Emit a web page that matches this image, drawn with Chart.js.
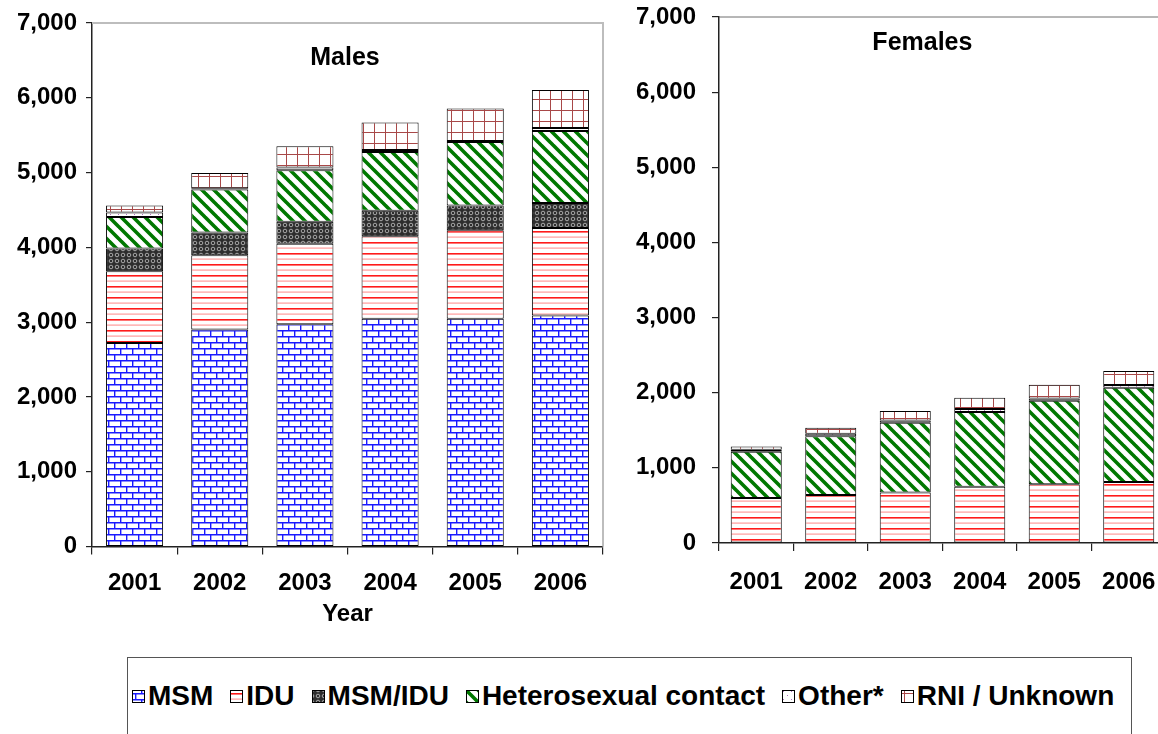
<!DOCTYPE html>
<html>
<head>
<meta charset="utf-8">
<script src="https://cdn.jsdelivr.net/npm/chart.js@4.4.1/dist/chart.umd.min.js"></script>
<style>
  html, body { margin: 0; padding: 0; background: #fff; width: 1158px; height: 734px; overflow: hidden; }
  body { position: relative; font-family: "Liberation Sans", Arial, sans-serif; }
  #males { position: absolute; left: 0; top: 0; }
  #females { position: absolute; left: 630px; top: 0; }
  #legend {
    position: absolute; left: 127px; top: 657px; width: 1005px; height: 120px;
    border: 1px solid #555; box-sizing: border-box;
    display: flex; align-items: flex-start; padding: 24px 0 0 4px;
  }
  .item { display: flex; align-items: center; margin-right: 17px; font-weight: bold; font-size: 28px; line-height: 28px; color: #000; }
  .item:last-child { margin-right: 0; }
  .item canvas { width: 13px; height: 13px; margin-right: 3px; }
</style>
</head>
<body>
<canvas id="males" width="620" height="650"></canvas>
<canvas id="females" width="560" height="650"></canvas>
<div id="legend"></div>

<script>
const years = ['2001', '2002', '2003', '2004', '2005', '2006']
const yTicks = [0, 1000, 2000, 3000, 4000, 5000, 6000, 7000]

const categories = ['MSM', 'IDU', 'MSM/IDU', 'Heterosexual contact', 'Other*', 'RNI / Unknown']

const maleMSM = [2720, 2903, 2973, 3044, 3044, 3090]
const maleIDU = [962, 993, 1074, 1105, 1186, 1170]
const maleMSMIDU = [303, 303, 294, 339, 330, 334]
const maleHetero = [422, 575, 690, 788, 848, 963]
const maleOther = [59, 16, 37, 25, 15, 40]
const maleRNI = [94, 205, 284, 368, 433, 508]

const femaleMSM = [0, 0, 0, 0, 0, 0]
const femaleIDU = [600, 640, 671, 747, 782, 813]
const femaleMSMIDU = [0, 0, 0, 0, 0, 0]
const femaleHetero = [613, 782, 929, 995, 1111, 1254]
const femaleOther = [27, 31, 31, 40, 31, 35]
const femaleRNI = [44, 80, 124, 151, 183, 186]

const FONT = '"Liberation Sans", Arial, sans-serif'

// hatch fills, one tile each
function tile (w, h, draw) {
  const c = document.createElement('canvas')
  c.width = w
  c.height = h
  const g = c.getContext('2d')
  g.fillStyle = '#fff'
  g.fillRect(0, 0, w, h)
  draw(g)
  return c
}

const tiles = {
  MSM: tile(12, 12, g => {
    g.strokeStyle = '#1a1aff'
    g.lineWidth = 1.4
    g.beginPath()
    g.moveTo(0, 0.7); g.lineTo(12, 0.7)
    g.moveTo(0, 6.7); g.lineTo(12, 6.7)
    g.moveTo(0.7, 0); g.lineTo(0.7, 6.7)
    g.moveTo(6.7, 6.7); g.lineTo(6.7, 12)
    g.stroke()
  }),
  IDU: tile(4, 11, g => {
    g.fillStyle = '#ff1a1a'
    g.fillRect(0, 0, 4, 1.6)
    g.fillStyle = '#ff9c9c'
    g.fillRect(0, 5.5, 4, 1.2)
  }),
  'MSM/IDU': tile(6, 6, g => {
    g.fillStyle = '#2e2e2e'
    g.fillRect(0, 0, 6, 6)
    g.strokeStyle = '#a8a8a8'
    g.lineWidth = 1
    g.beginPath()
    g.arc(3, 3, 1.8, 0, Math.PI * 2)
    g.stroke()
  }),
  'Heterosexual contact': tile(12, 12, g => {
    g.strokeStyle = '#007800'
    g.lineWidth = 3.6
    g.beginPath()
    for (const x0 of [-12, 0, 12]) {
      g.moveTo(x0 - 1, -1)
      g.lineTo(x0 + 13, 13)
    }
    g.stroke()
  }),
  'Other*': tile(8, 8, g => {
    g.fillStyle = '#b070c0'
    g.fillRect(2, 2, 1, 1)
    g.fillRect(6, 6, 1, 1)
  }),
  'RNI / Unknown': tile(11, 11, g => {
    g.fillStyle = '#a84848'
    g.fillRect(0, 0, 11, 1)
    g.fillRect(0, 0, 1, 11)
  })
}

function fillFor (name, ctx) {
  return ctx.createPattern(tiles[name], 'repeat')
}

// plot-area frame and the panel heading inside it
const panelFrame = {
  id: 'panelFrame',
  beforeDatasetsDraw (chart, args, opts) {
    const { ctx, chartArea: a } = chart
    ctx.save()
    ctx.strokeStyle = opts.color
    ctx.lineWidth = opts.width
    ctx.beginPath()
    ctx.moveTo(a.left, a.top)
    ctx.lineTo(a.right, a.top)
    ctx.lineTo(a.right, a.bottom)
    ctx.stroke()
    ctx.fillStyle = '#000'
    ctx.font = 'bold ' + opts.size + 'px ' + FONT
    ctx.textAlign = 'center'
    ctx.textBaseline = 'middle'
    ctx.fillText(opts.text, a.left + a.width * opts.x, a.top + opts.y)
    ctx.restore()
  }
}

function buildChart (canvas, series, cfg) {
  const ctx = canvas.getContext('2d')
  return new Chart(ctx, {
    type: 'bar',
    data: {
      labels: years,
      datasets: categories.map((name, i) => ({
        label: name,
        data: series[i],
        backgroundColor: fillFor(name, ctx),
        borderColor: '#000',
        borderWidth: c => (c.raw ? 1 : 0),
        borderSkipped: false,
        categoryPercentage: 1,
        barPercentage: cfg.barPct
      }))
    },
    options: {
      responsive: false,
      animation: false,
      devicePixelRatio: 1,
      layout: { padding: { top: cfg.top, right: cfg.right, left: 0, bottom: 0 } },
      plugins: {
        legend: { display: false },
        tooltip: { enabled: false },
        panelFrame: { text: cfg.title, x: cfg.titleX, y: cfg.titleY, size: 25, color: cfg.frameColor, width: cfg.frameWidth }
      },
      scales: {
        x: {
          stacked: true,
          border: { color: '#222', width: 1.5 },
          grid: { drawOnChartArea: false, tickLength: 8, color: '#222', lineWidth: 1.2, offset: true },
          ticks: { padding: cfg.xPad, color: '#000', font: { family: FONT, size: 24, weight: 'bold' } },
          title: {
            display: !!cfg.xTitle,
            text: cfg.xTitle,
            color: '#000',
            font: { family: FONT, size: 24, weight: 'bold' },
            padding: { top: 0, bottom: 21 }
          },
          afterFit: s => { s.height = cfg.xHeight }
        },
        y: {
          stacked: true,
          min: 0,
          max: 7000,
          afterBuildTicks: s => { s.ticks = yTicks.map(v => ({ value: v })) },
          border: { color: '#222', width: 1.5 },
          grid: { drawOnChartArea: false, tickLength: cfg.yTick, color: '#222', lineWidth: 1.2 },
          ticks: {
            padding: cfg.yPad,
            color: '#000',
            font: { family: FONT, size: 24, weight: 'bold' },
            callback: v => v.toLocaleString('en-US')
          },
          afterFit: s => {
            s.width = cfg.yWidth
            s.paddingTop = 0
            s.paddingBottom = 0
          }
        }
      }
    },
    plugins: [panelFrame]
  })
}

buildChart(document.getElementById('males'),
  [maleMSM, maleIDU, maleMSMIDU, maleHetero, maleOther, maleRNI], {
    title: 'Males', titleX: 0.495, titleY: 35,
    frameColor: '#bdbdbd', frameWidth: 2,
    top: 23, right: 17, yWidth: 92, xHeight: 103.5,
    yTick: 6, yPad: 9, xPad: 14, barPct: 0.67, xTitle: 'Year'
  })

buildChart(document.getElementById('females'),
  [femaleMSM, femaleIDU, femaleMSMIDU, femaleHetero, femaleOther, femaleRNI], {
    title: 'Females', titleX: 0.455, titleY: 26,
    frameColor: '#6e6e6e', frameWidth: 1,
    top: 17, right: 24, yWidth: 89, xHeight: 107,
    yTick: 7, yPad: 16, xPad: 17, barPct: 0.685, xTitle: ''
  })

// shared legend, swatches filled with the same hatches
const legend = document.getElementById('legend')
categories.forEach(name => {
  const item = document.createElement('div')
  item.className = 'item'
  const sw = document.createElement('canvas')
  sw.width = 13
  sw.height = 13
  const g = sw.getContext('2d')
  const pat = g.createPattern(tiles[name], 'repeat')
  pat.setTransform(new DOMMatrix().translate(3, 3))
  g.fillStyle = pat
  g.fillRect(0, 0, 13, 13)
  g.strokeStyle = '#000'
  g.lineWidth = 1
  g.strokeRect(0.5, 0.5, 12, 12)
  item.appendChild(sw)
  item.appendChild(document.createTextNode(name))
  legend.appendChild(item)
})
</script>
</body>
</html>
